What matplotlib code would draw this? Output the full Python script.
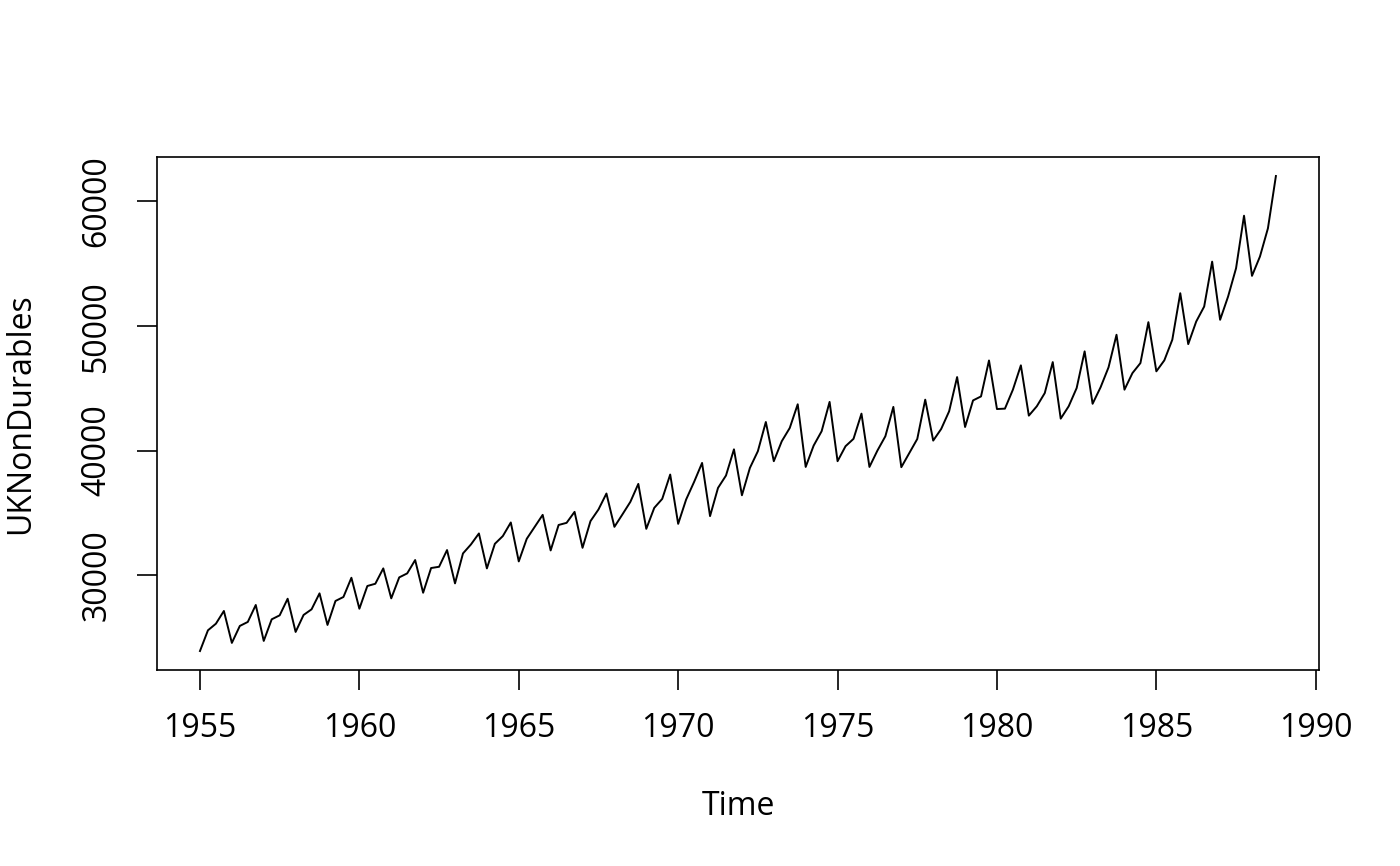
import numpy as np
import matplotlib
matplotlib.use("Agg")
import matplotlib.pyplot as plt

plt.rcParams['font.family'] = ['Open Sans', 'DejaVu Sans']

# quarterly series, 1955 Q1 - 1988 Q4
start_year = 1955
uk_nondurables = [
    23940, 25600, 26130, 27150,
    24590, 25950, 26270, 27630,
    24750, 26480, 26800, 28130,
    25470, 26830, 27280, 28560,
    26030, 27950, 28270, 29810,
    27330, 29150, 29330, 30560,
    28160, 29840, 30160, 31230,
    28610, 30590, 30690, 32030,
    29360, 31760, 32480, 33360,
    30560, 32530, 33150, 34240,
    31120, 32930, 33890, 34850,
    32000, 34040, 34210, 35090,
    32210, 34350, 35280, 36560,
    33890, 34880, 35890, 37330,
    33730, 35410, 36130, 38080,
    34130, 36080, 37490, 39010,
    34750, 37010, 38000, 40100,
    36420, 38610, 39950, 42290,
    39150, 40750, 41810, 43710,
    38690, 40400, 41550, 43900,
    39150, 40350, 40940, 42960,
    38690, 40000, 41150, 43500,
    38670, 39800, 40930, 44080,
    40800, 41730, 43150, 45890,
    41890, 44020, 44340, 47220,
    43330, 43360, 44880, 46830,
    42800, 43550, 44610, 47090,
    42560, 43550, 45010, 47950,
    43750, 45070, 46670, 49280,
    44880, 46210, 47010, 50290,
    46350, 47230, 48880, 52610,
    48530, 50340, 51540, 55140,
    50480, 52340, 54610, 58820,
    54000, 55550, 57810, 62000,
]
x_ticks = [1955, 1960, 1965, 1970, 1975, 1980, 1985, 1990]
y_ticks = [30000, 40000, 50000, 60000]

y = np.array(uk_nondurables)
t = start_year + np.arange(len(y)) / 4.0

fig = plt.figure(figsize=(14, 8.66), dpi=100)
ax = fig.add_axes([0.1121, 0.2263, 0.83, 0.5924])
ax.plot(t, y, color="black", lw=1.4)

# R style 4% padding
xr = t.max() - t.min()
yr = y.max() - y.min()
ax.set_xlim(t.min() - 0.04 * xr, t.max() + 0.04 * xr)
ax.set_ylim(y.min() - 0.04 * yr, y.max() + 0.04 * yr)

ax.set_xticks(x_ticks)
ax.set_yticks(y_ticks)
ax.set_xticklabels([str(v) for v in x_ticks])
ax.set_yticklabels([str(v) for v in y_ticks], rotation=90, va="center")
ax.tick_params(axis="both", length=14.4, width=1.2, labelsize=23, color="black")
ax.tick_params(axis="x", pad=16)
ax.tick_params(axis="y", pad=17)
for s in ax.spines.values():
    s.set_linewidth(1.2)

ax.set_xlabel("Time", fontsize=23, labelpad=32)
ax.set_ylabel("UKNonDurables", fontsize=23, labelpad=31)

fig.savefig("out.png", dpi=100)
